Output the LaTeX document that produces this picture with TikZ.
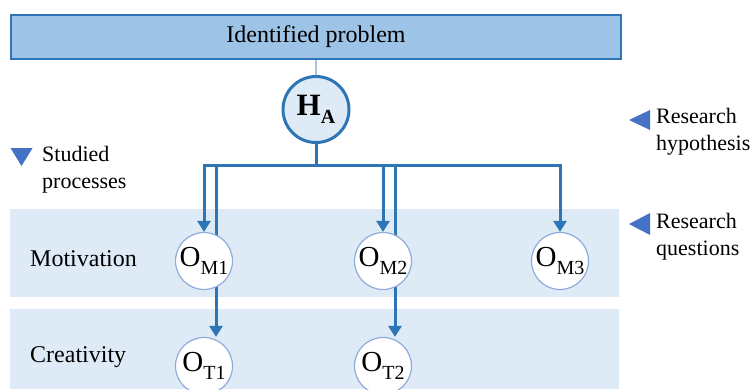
\documentclass[tikz,border=0pt]{standalone}
\usepackage{fontspec}
\setmainfont{Liberation Serif}
\usetikzlibrary{arrows.meta}
\definecolor{boxfill}{HTML}{9DC3E6}
\definecolor{boxline}{HTML}{2E75B6}
\definecolor{bandfill}{HTML}{DEEBF7}
\definecolor{circline}{HTML}{8FAADC}
\definecolor{markblue}{HTML}{4472C4}
\definecolor{thinline}{HTML}{A9C4E4}
\pgfdeclarelayer{bg}\pgfdeclarelayer{lines}
\pgfsetlayers{bg,lines,main}
\newcommand\Osub[1]{{\fontsize{29}{29}\selectfont O}\raisebox{-8pt}{\fontsize{20}{20}\selectfont #1}}
\begin{document}
\begin{tikzpicture}[x=1pt,y=-1pt,
  conn/.style={draw=boxline,line width=3pt},
  arr/.style={conn,-{Triangle[width=13pt,length=11pt]}},
  ocirc/.style={circle,draw=circline,line width=1.2pt,fill=white,minimum size=57pt,inner sep=0pt},
  lab/.style={anchor=west,align=left,inner sep=0pt,font=\fontsize{22}{27}\selectfont},
  proc/.style={anchor=west,inner sep=0pt,font=\fontsize{24}{28}\selectfont}]
\useasboundingbox (0,0) rectangle (751,389);
\begin{pgfonlayer}{bg}
\fill[bandfill] (10,209) rectangle (619,297);
\fill[bandfill] (10,309) rectangle (619,389);
\end{pgfonlayer}
\node[draw=boxline,fill=boxfill,line width=2.5pt,minimum width=610pt,minimum height=44pt,inner sep=0pt,font=\fontsize{24}{28}\selectfont] (prob) at (316,37) {\raisebox{-3pt}{Identified problem}};
\node[circle,draw=boxline,fill=bandfill,line width=3pt,minimum size=66pt,inner sep=0pt] (ha) at (316,109.5) {\fontsize{31}{31}\selectfont\bfseries H\raisebox{-8pt}{\fontsize{20}{20}\selectfont A}};
\node[ocirc] (om1) at (204,261) {\Osub{M1}};
\node[ocirc] (om2) at (383,261) {\Osub{M2}};
\node[ocirc] (om3) at (560,261) {\Osub{M3}};
\node[ocirc] (ot1) at (204,366) {\Osub{T1}};
\node[ocirc] (ot2) at (383,366) {\Osub{T2}};
\coordinate (j) at (316,165);
\coordinate (c1) at (216,165);
\coordinate (c2) at (395,165);
\begin{pgfonlayer}{lines}
\draw[thinline,line width=1.5pt] (prob.south) -- (ha.north);
\draw[conn] (ha.south) -- (j);
\draw[arr] (j) -| (om1.north);
\draw[arr] (j) -| (om2.north);
\draw[arr] (j) -| (om3.north);
\draw[arr] (j) -| (c1 |- ot1.north);
\draw[arr] (j) -| (c2 |- ot2.north);
\end{pgfonlayer}
\fill[markblue] (10.5,148) -- (32.6,148) -- (21.5,166) -- cycle;
\fill[markblue] (650,110) -- (650,130) -- (629,120) -- cycle;
\fill[markblue] (650,213) -- (650,235) -- (629,224) -- cycle;
\node[lab] (sp) at (42,170) {Studied\\processes};
\node[lab] (rh) at (656,131.5) {Research\\hypothesis};
\node[lab] (rq) at (656,236.5) {Research\\questions};
\node[proc] (mot) at (30,259) {Motivation};
\node[proc] (cre) at (30,357) {Creativity};
\end{tikzpicture}
\end{document}
